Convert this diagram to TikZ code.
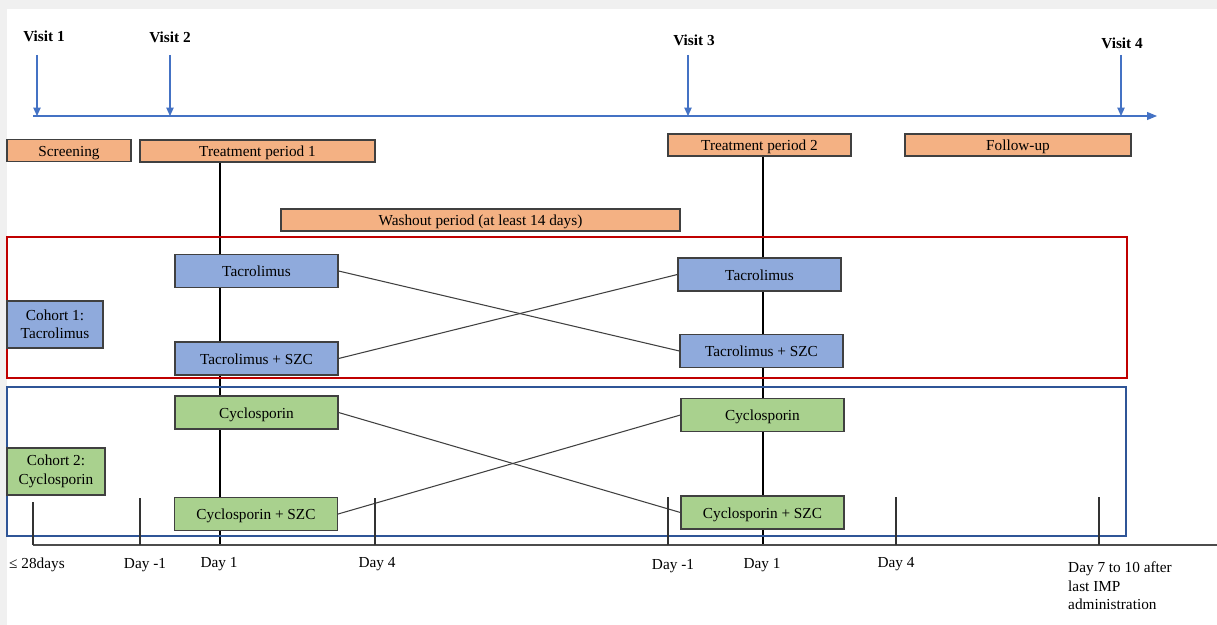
\documentclass[tikz,border=0pt]{standalone}
\usepackage{fontspec}
\setmainfont{Liberation Serif}
\usepackage{tikz}
\usetikzlibrary{arrows.meta, positioning}
\definecolor{periodorange}{HTML}{F4B183}
\definecolor{tacblue}{HTML}{8FAADC}
\definecolor{cycgreen}{HTML}{A9D18E}
\definecolor{cohortred}{HTML}{C00000}
\definecolor{cohortblue}{HTML}{2F5597}
\definecolor{visitblue}{HTML}{4472C4}
\definecolor{boxline}{HTML}{404040}
\definecolor{pagegrey}{HTML}{F0F0F0}
\tikzstyle{boxbase} = [rectangle, draw=boxline, line width=0.7pt, inner sep=0pt]
\tikzstyle{drugbox} = [boxbase, minimum width=3.26cm, minimum height=0.66cm, text height=0.66em, text depth=0pt]
\tikzstyle{timeline} = [-{Triangle[length=2mm, width=1.6mm]}, visitblue, line width=0.6pt]

\begin{document}
\begin{tikzpicture}[
    x=0.02cm, y=-0.02cm,
    every node/.style={font=\fontsize{8.7}{10.5}\selectfont},
    periodbox/.style={boxbase, fill=periodorange, minimum height=0.44cm, text height=0.66em, text depth=0pt},
    tacbox/.style={drugbox, fill=tacblue},
    cycbox/.style={drugbox, fill=cycgreen},
    cohortbox/.style={boxbase, minimum height=0.94cm, align=center},
    visit/.style={font=\bfseries\fontsize{8.7}{10.5}\selectfont},
    visitarr/.style={-{Triangle[length=1.7mm, width=1.5mm]}, visitblue, line width=0.6pt},
    cross/.style={boxline, line width=0.6pt},
    dayline/.style={black, line width=0.7pt},
    tick/.style={black!80, line width=0.6pt}
  ]
    % page
    \fill[pagegrey] (0,0) rectangle (1217,625);
    \fill[white] (7,9) rectangle (1217,625);
    \useasboundingbox (0,0) rectangle (1217,625);

    % Visits on the time line
    \node[visit] (v1) at (44,36) {Visit 1};
    \node[visit] (v2) at (170,37) {Visit 2};
    \node[visit] (v3) at (694,40) {Visit 3};
    \node[visit] (v4) at (1122,43) {Visit 4};

    \coordinate (tstart) at (33,116);
    \coordinate (tend) at (1157,116);
    \draw[timeline] (tstart) -- (tend);
    \foreach \n/\x in {1/37, 2/170, 3/688, 4/1121} {
      \coordinate (t\n) at (\x,116);
      \draw[visitarr] (t\n) ++(0,-61) -- (t\n);
    }

    % Periods
    \node[periodbox, minimum width=2.48cm] (scr) at (69,150.5) {Screening};
    \node[periodbox, minimum width=4.7cm] (tp1) at (257.5,151) {Treatment period 1};
    \node[periodbox, minimum width=7.98cm] (wash) at (480.5,220) {Washout period (at least 14 days)};
    \node[periodbox, minimum width=3.66cm] (tp2) at (759.5,145) {Treatment period 2};
    \node[periodbox, minimum width=4.52cm] (fu) at (1018,145) {Follow-up};

    % Day 1 lines
    \coordinate (d1) at (220,545);
    \coordinate (d2) at (763,545);
    \draw[dayline] (tp1.south -| d1) -- (d1);
    \draw[dayline] (tp2.south -| d2) -- (d2);

    % Cohort frames
    \draw[cohortred, line width=1.2pt] (7,237) rectangle (1127,378);
    \draw[cohortblue, line width=1.2pt] (7,387) rectangle (1126,536);

    % Cohort 1: Tacrolimus
    \node[cohortbox, fill=tacblue, minimum width=1.92cm] (coh1) at (55,324.5) {Cohort 1:\\Tacrolimus};
    \node[tacbox] (tac1) at (256.5,271) {Tacrolimus};
    \node[tacbox] (tacs1) at (256.5,358.5) {Tacrolimus + SZC};
    \node[tacbox] (tac2) at (759.5,274.5) {Tacrolimus};
    \node[tacbox] (tacs2) at (761.5,351) {Tacrolimus + SZC};

    \draw[cross] (tac1.east) -- (tacs2.west);
    \draw[cross] (tacs1.east) -- (tac2.west);

    % Cohort 2: Cyclosporin
    \node[cohortbox, fill=cycgreen, minimum width=1.96cm] (coh2) at (56,471.5) {Cohort 2:\\Cyclosporin};
    \node[cycbox] (cyc1) at (256.5,412.5) {Cyclosporin};
    \node[cycbox] (cycs1) at (256,514) {Cyclosporin + SZC};
    \node[cycbox] (cyc2) at (762.5,415) {Cyclosporin};
    \node[cycbox] (cycs2) at (762.5,512.5) {Cyclosporin + SZC};

    \draw[cross] (cyc1.east) -- (cycs2.west);
    \draw[cross] (cycs1.east) -- (cyc2.west);

    % Day axis
    \coordinate (a0) at (33,545);
    \coordinate (a1) at (1217,545);
    \draw[tick, line width=0.9pt, black!70] (a0) -- (a1);
    \foreach \x/\h in {33/43, 140/47, 375/47, 668/48, 896/48, 1099/48}
      \draw[tick] (\x,545) -- ++(0,-\h);

    \node (lt28) at (37,565) {≤ 28days};
    \node (dm1a) at (145,565) {Day -1};
    \node (dp1a) at (219,564) {Day 1};
    \node (dp4a) at (377,564) {Day 4};
    \node (dm1b) at (673,566) {Day -1};
    \node (dp1b) at (762,565) {Day 1};
    \node (dp4b) at (896,564) {Day 4};
    \node[anchor=north west, align=left] (d710) at (1062,556) {Day 7 to 10 after\\last IMP\\administration};
  \end{tikzpicture}
\end{document}
